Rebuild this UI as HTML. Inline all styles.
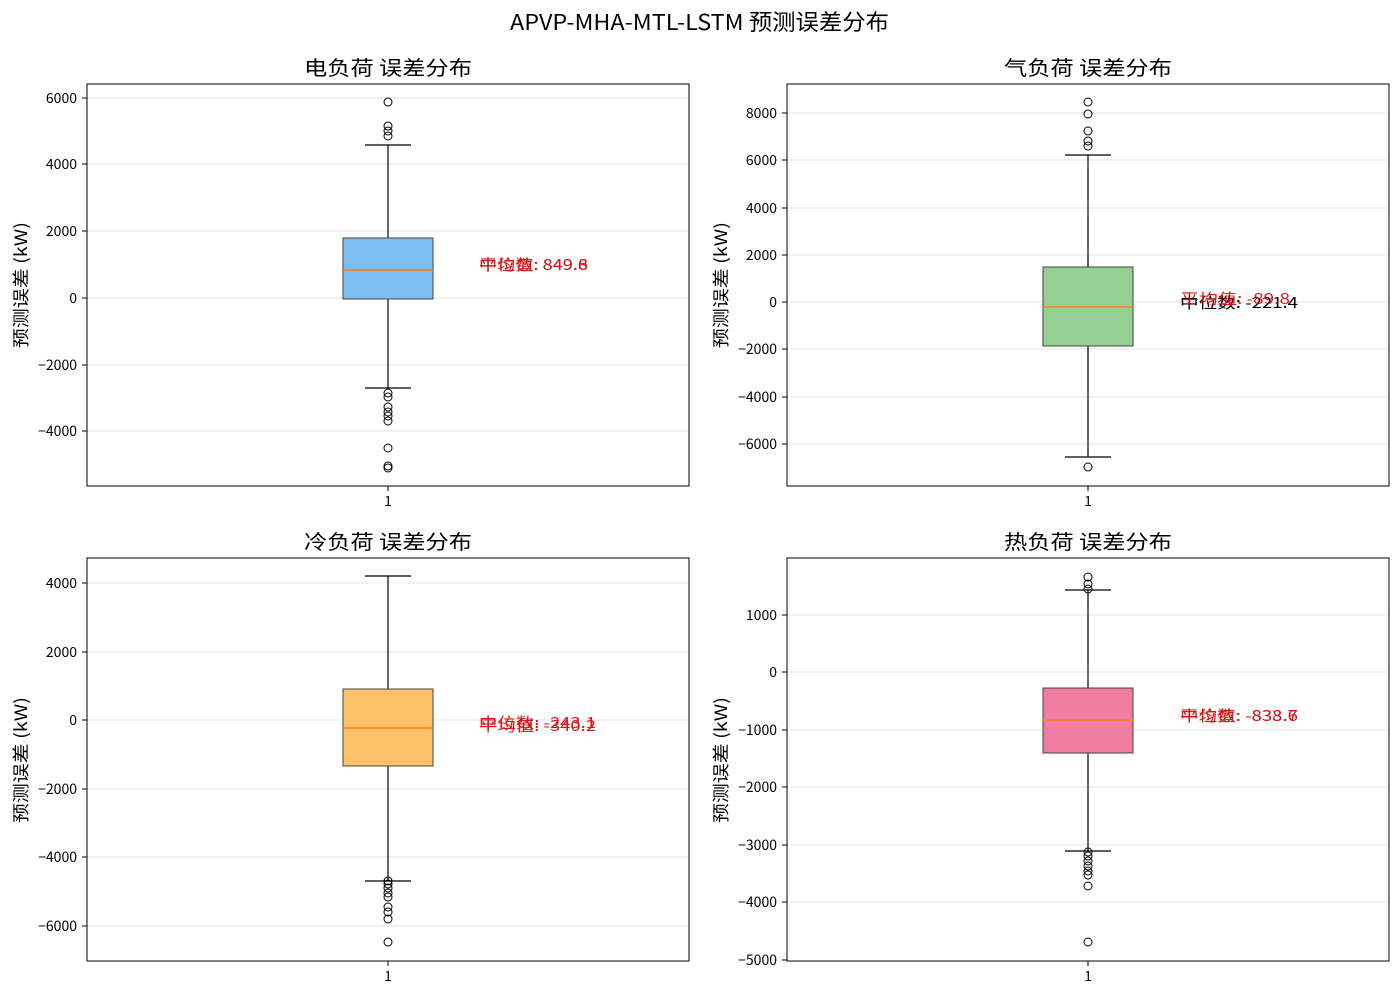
<!DOCTYPE html>
<html><head><meta charset="utf-8"><style>
body{margin:0;background:#fff}
text{font-family:"WenQuanYi Zen Hei","Noto Sans CJK SC",sans-serif}
</style></head><body>
<svg width="1400" height="994" xmlns="http://www.w3.org/2000/svg">
<rect width="1400" height="994" fill="#fff"/>
<text x="510" y="30" font-size="22" textLength="379" lengthAdjust="spacingAndGlyphs">APVP-MHA-MTL-LSTM 预测误差分布</text>

<!-- Panel 1 -->
<g>
<text x="304" y="75" font-size="20" textLength="168" lengthAdjust="spacingAndGlyphs">电负荷 误差分布</text>
<g stroke="#e6e6e6" stroke-width="1">
<line x1="87" x2="689" y1="98" y2="98"/><line x1="87" x2="689" y1="164" y2="164"/><line x1="87" x2="689" y1="231" y2="231"/><line x1="87" x2="689" y1="298" y2="298"/><line x1="87" x2="689" y1="365" y2="365"/><line x1="87" x2="689" y1="431" y2="431"/>
</g>
<g font-size="14" text-anchor="end">
<text x="77" y="103">6000</text><text x="77" y="169">4000</text><text x="77" y="236">2000</text><text x="77" y="303">0</text><text x="77" y="370">−2000</text><text x="77" y="436">−4000</text>
</g>
<g stroke="#000"><line x1="82" x2="87" y1="98" y2="98"/><line x1="82" x2="87" y1="164" y2="164"/><line x1="82" x2="87" y1="231" y2="231"/><line x1="82" x2="87" y1="298" y2="298"/><line x1="82" x2="87" y1="365" y2="365"/><line x1="82" x2="87" y1="431" y2="431"/><line x1="388" x2="388" y1="486" y2="491"/></g>
<text x="388" y="506" font-size="14" text-anchor="middle">1</text>
<text transform="translate(27,348) rotate(-90)" font-size="17" textLength="126" lengthAdjust="spacingAndGlyphs">预测误差 (kW)</text>
<g stroke="#000" fill="none" stroke-width="1.2">
<line x1="388" x2="388" y1="145" y2="238"/><line x1="388" x2="388" y1="299" y2="388"/>
<line x1="365" x2="411" y1="145" y2="145"/><line x1="365" x2="411" y1="388" y2="388"/>
</g>
<rect x="343" y="238" width="90" height="61" fill="#7bbff5" stroke="#444"/>
<line x1="343" x2="433" y1="270" y2="270" stroke="#ff7f0e" stroke-width="1.5"/>
<g fill="none" stroke="#000">
<circle cx="388" cy="102" r="4"/><circle cx="388" cy="126" r="4"/><circle cx="388" cy="131" r="4"/><circle cx="388" cy="136" r="4"/>
<circle cx="388" cy="393" r="4"/><circle cx="388" cy="397" r="4"/><circle cx="388" cy="407" r="4"/><circle cx="388" cy="412" r="4"/><circle cx="388" cy="416" r="4"/><circle cx="388" cy="421" r="4"/><circle cx="388" cy="448" r="4"/><circle cx="388" cy="466" r="4"/><circle cx="388" cy="468" r="4"/>
</g>
<g font-size="15" fill="#d40000" opacity="0.9"><text x="479" y="270" textLength="109" lengthAdjust="spacingAndGlyphs">平均值: 849.8</text><text x="479" y="270" textLength="109" lengthAdjust="spacingAndGlyphs">中位数: 849.6</text></g>
<rect x="87" y="84" width="602" height="402" fill="none" stroke="#000"/>
</g>

<!-- Panel 2 -->
<g>
<text x="1004" y="75" font-size="20" textLength="168" lengthAdjust="spacingAndGlyphs">气负荷 误差分布</text>
<g stroke="#e6e6e6">
<line x1="787" x2="1389" y1="113" y2="113"/><line x1="787" x2="1389" y1="160" y2="160"/><line x1="787" x2="1389" y1="208" y2="208"/><line x1="787" x2="1389" y1="255" y2="255"/><line x1="787" x2="1389" y1="302" y2="302"/><line x1="787" x2="1389" y1="349" y2="349"/><line x1="787" x2="1389" y1="397" y2="397"/><line x1="787" x2="1389" y1="444" y2="444"/>
</g>
<g font-size="14" text-anchor="end">
<text x="777" y="118">8000</text><text x="777" y="165">6000</text><text x="777" y="213">4000</text><text x="777" y="260">2000</text><text x="777" y="307">0</text><text x="777" y="354">−2000</text><text x="777" y="402">−4000</text><text x="777" y="449">−6000</text>
</g>
<g stroke="#000"><line x1="782" x2="787" y1="113" y2="113"/><line x1="782" x2="787" y1="160" y2="160"/><line x1="782" x2="787" y1="208" y2="208"/><line x1="782" x2="787" y1="255" y2="255"/><line x1="782" x2="787" y1="302" y2="302"/><line x1="782" x2="787" y1="349" y2="349"/><line x1="782" x2="787" y1="397" y2="397"/><line x1="782" x2="787" y1="444" y2="444"/><line x1="1088" x2="1088" y1="486" y2="491"/></g>
<text x="1088" y="506" font-size="14" text-anchor="middle">1</text>
<text transform="translate(727,348) rotate(-90)" font-size="17" textLength="126" lengthAdjust="spacingAndGlyphs">预测误差 (kW)</text>
<g stroke="#000" stroke-width="1.2">
<line x1="1088" x2="1088" y1="155" y2="267"/><line x1="1088" x2="1088" y1="346" y2="457"/>
<line x1="1065" x2="1111" y1="155" y2="155"/><line x1="1065" x2="1111" y1="457" y2="457"/>
</g>
<rect x="1043" y="267" width="90" height="79" fill="#95d095" stroke="#444"/>
<line x1="1043" x2="1133" y1="307" y2="307" stroke="#ff7f0e" stroke-width="1.5"/>
<g fill="none" stroke="#000">
<circle cx="1088" cy="102" r="4"/><circle cx="1088" cy="114" r="4"/><circle cx="1088" cy="131" r="4"/><circle cx="1088" cy="141" r="4"/><circle cx="1088" cy="146" r="4"/><circle cx="1088" cy="467" r="4"/>
</g>
<text x="1180" y="308" font-size="15" fill="#000" textLength="118" lengthAdjust="spacingAndGlyphs">中位数: -221.4</text>
<text x="1180" y="304" font-size="15" fill="#e00000" opacity="0.9" textLength="110" lengthAdjust="spacingAndGlyphs">平均值: -89.8</text>
<rect x="787" y="84" width="602" height="402" fill="none" stroke="#000"/>
</g>

<!-- Panel 3 -->
<g>
<text x="304" y="549" font-size="20" textLength="168" lengthAdjust="spacingAndGlyphs">冷负荷 误差分布</text>
<g stroke="#e6e6e6">
<line x1="87" x2="689" y1="583" y2="583"/><line x1="87" x2="689" y1="652" y2="652"/><line x1="87" x2="689" y1="720" y2="720"/><line x1="87" x2="689" y1="789" y2="789"/><line x1="87" x2="689" y1="857" y2="857"/><line x1="87" x2="689" y1="926" y2="926"/>
</g>
<g font-size="14" text-anchor="end">
<text x="77" y="588">4000</text><text x="77" y="657">2000</text><text x="77" y="725">0</text><text x="77" y="794">−2000</text><text x="77" y="862">−4000</text><text x="77" y="931">−6000</text>
</g>
<g stroke="#000"><line x1="82" x2="87" y1="583" y2="583"/><line x1="82" x2="87" y1="652" y2="652"/><line x1="82" x2="87" y1="720" y2="720"/><line x1="82" x2="87" y1="789" y2="789"/><line x1="82" x2="87" y1="857" y2="857"/><line x1="82" x2="87" y1="926" y2="926"/><line x1="388" x2="388" y1="961" y2="966"/></g>
<text x="388" y="981" font-size="14" text-anchor="middle">1</text>
<text transform="translate(27,823) rotate(-90)" font-size="17" textLength="126" lengthAdjust="spacingAndGlyphs">预测误差 (kW)</text>
<g stroke="#000" stroke-width="1.2">
<line x1="388" x2="388" y1="576" y2="689"/><line x1="388" x2="388" y1="766" y2="881"/>
<line x1="365" x2="411" y1="576" y2="576"/><line x1="365" x2="411" y1="881" y2="881"/>
</g>
<rect x="343" y="689" width="90" height="77" fill="#ffc06a" stroke="#444"/>
<line x1="343" x2="433" y1="728" y2="728" stroke="#ff7f0e" stroke-width="1.5"/>
<g fill="none" stroke="#000">
<circle cx="388" cy="881" r="4"/><circle cx="388" cy="884" r="4"/><circle cx="388" cy="888" r="4"/><circle cx="388" cy="893" r="4"/><circle cx="388" cy="897" r="4"/><circle cx="388" cy="907" r="4"/><circle cx="388" cy="912" r="4"/><circle cx="388" cy="919" r="4"/><circle cx="388" cy="942" r="4"/>
</g>
<g font-size="15" fill="#d40000" opacity="0.9"><text x="479" y="728" textLength="117" lengthAdjust="spacingAndGlyphs">中位数: -243.1</text><text x="479" y="731" textLength="117" lengthAdjust="spacingAndGlyphs">平均值: -340.2</text></g>
<rect x="87" y="558" width="602" height="403" fill="none" stroke="#000"/>
</g>

<!-- Panel 4 -->
<g>
<text x="1004" y="549" font-size="20" textLength="168" lengthAdjust="spacingAndGlyphs">热负荷 误差分布</text>
<g stroke="#e6e6e6">
<line x1="787" x2="1389" y1="615" y2="615"/><line x1="787" x2="1389" y1="672" y2="672"/><line x1="787" x2="1389" y1="730" y2="730"/><line x1="787" x2="1389" y1="787" y2="787"/><line x1="787" x2="1389" y1="845" y2="845"/><line x1="787" x2="1389" y1="902" y2="902"/>
</g>
<g font-size="14" text-anchor="end">
<text x="777" y="620">1000</text><text x="777" y="677">0</text><text x="777" y="735">−1000</text><text x="777" y="792">−2000</text><text x="777" y="850">−3000</text><text x="777" y="907">−4000</text><text x="777" y="965">−5000</text>
</g>
<g stroke="#000"><line x1="782" x2="787" y1="615" y2="615"/><line x1="782" x2="787" y1="672" y2="672"/><line x1="782" x2="787" y1="730" y2="730"/><line x1="782" x2="787" y1="787" y2="787"/><line x1="782" x2="787" y1="845" y2="845"/><line x1="782" x2="787" y1="902" y2="902"/><line x1="782" x2="787" y1="960" y2="960"/><line x1="1088" x2="1088" y1="961" y2="966"/></g>
<text x="1088" y="981" font-size="14" text-anchor="middle">1</text>
<text transform="translate(727,823) rotate(-90)" font-size="17" textLength="126" lengthAdjust="spacingAndGlyphs">预测误差 (kW)</text>
<g stroke="#000" stroke-width="1.2">
<line x1="1088" x2="1088" y1="590" y2="688"/><line x1="1088" x2="1088" y1="753" y2="851"/>
<line x1="1065" x2="1111" y1="590" y2="590"/><line x1="1065" x2="1111" y1="851" y2="851"/>
</g>
<rect x="1043" y="688" width="90" height="65" fill="#f07ca1" stroke="#444"/>
<line x1="1043" x2="1133" y1="720" y2="720" stroke="#ff7f0e" stroke-width="1.5"/>
<g fill="none" stroke="#000">
<circle cx="1088" cy="577" r="4"/><circle cx="1088" cy="584" r="4"/><circle cx="1088" cy="589" r="4"/>
<circle cx="1088" cy="852" r="4"/><circle cx="1088" cy="856" r="4"/><circle cx="1088" cy="861" r="4"/><circle cx="1088" cy="866" r="4"/><circle cx="1088" cy="871" r="4"/><circle cx="1088" cy="875" r="4"/><circle cx="1088" cy="886" r="4"/><circle cx="1088" cy="942" r="4"/>
</g>
<g font-size="15" fill="#d40000" opacity="0.9"><text x="1180" y="721" textLength="118" lengthAdjust="spacingAndGlyphs">中位数: -838.7</text><text x="1180" y="721" textLength="118" lengthAdjust="spacingAndGlyphs">平均值: -833.6</text></g>
<rect x="787" y="558" width="602" height="403" fill="none" stroke="#000"/>
</g>
</svg>
</body></html>
